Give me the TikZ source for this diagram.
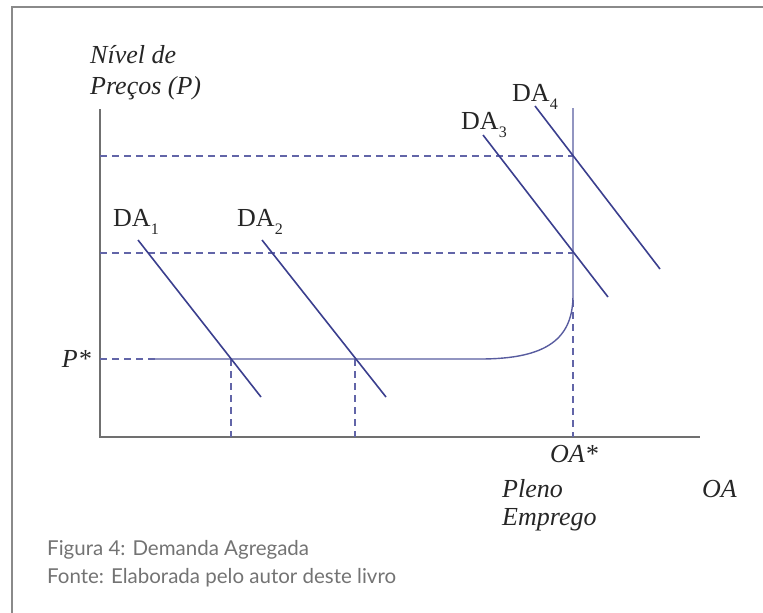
\documentclass[tikz,border=0pt]{standalone}
\usepackage{fontspec}
\setmainfont{Liberation Serif}
\newfontfamily\capfont{Lato}
\definecolor{curveblue}{HTML}{3B3F8E}
\definecolor{dashblue}{HTML}{6265A8}
\definecolor{axisgray}{HTML}{707070}
\definecolor{framegray}{HTML}{8A8A8A}
\definecolor{capgray}{HTML}{737373}
\newcommand{\dasub}[1]{\raisebox{-8pt}{\fontsize{16}{16}\selectfont #1}}
\begin{document}
\begin{tikzpicture}[x=1pt,y=-1pt,
  curve/.style={draw=curveblue,line width=1.6pt},
  guide/.style={draw=dashblue,line width=1.3pt,dash pattern=on 7pt off 5pt},
  axis/.style={draw=axisgray,line width=1.6pt},
  lbl/.style={inner sep=0pt,font=\fontsize{26}{30}\selectfont\itshape,text=black!85},
  dalbl/.style={inner sep=0pt,font=\fontsize{26}{30}\selectfont,text=black!85,anchor=base west},
  caption/.style={inner sep=0pt,anchor=base west,font=\capfont\fontsize{20.5}{24}\selectfont,text=capgray}]
\useasboundingbox (0,0) rectangle (763,613);
% frame (top and left edges)
\draw[framegray,line width=2.4pt] (763,7) -- (12,7) -- (12,613);

% axes
\coordinate (ytop) at (100,109);
\coordinate (orig) at (100,437);
\coordinate (xend) at (700,437);
\draw[axis] (ytop) -- (orig) -- (xend);

% key points
\coordinate (p4) at (573,156);
\coordinate (p3) at (573,253);
\coordinate (e1) at (231,359);
\coordinate (e2) at (355,359);
\coordinate (yP4) at (100,156);
\coordinate (yP3) at (100,253);
\coordinate (yPs) at (100,359);
\coordinate (ps) at (155,359);
\coordinate (x1) at (231,437);
\coordinate (x2) at (355,437);
\coordinate (xf) at (573,437);
\coordinate (kink) at (573,300);

% guide lines
\draw[guide] (yP4) -- (p4);
\draw[guide] (yP3) -- (p3);
\draw[guide] (yPs) -- (ps);
\draw[guide] (e1) -- (x1);
\draw[guide] (e2) -- (x2);
\draw[guide] (kink) -- (xf);

% aggregate supply
\draw[curve,line width=1.4pt,draw=curveblue!85] (ps) -- (480,359)
  .. controls (548,359) and (573,338) .. (573,295) -- (573,108);

% aggregate demand curves
\draw[curve] (138,240) -- (261,397);
\draw[curve] (262,240) -- (386,397);
\draw[curve] (483,135) -- (608,297);
\draw[curve] (535,106) -- (660,269);

% labels
\node[dalbl] (da1) at (113,226) {DA\dasub{1}};
\node[dalbl] (da2) at (237,226) {DA\dasub{2}};
\node[dalbl] (da3) at (461,129) {DA\dasub{3}};
\node[dalbl] (da4) at (512,101) {DA\dasub{4}};

\node[lbl,anchor=base west] (ny1) at (90,63) {Nível de};
\node[lbl,anchor=base west] (ny2) at (90,94) {Preços (P)};
\node[lbl,anchor=base east] (pstar) at (91,367) {P*};
\node[lbl,anchor=base west] (oastar) at (550,462) {OA*};
\node[lbl,anchor=base west] (pl1) at (502,497) {Pleno};
\node[lbl,anchor=base west] (pl2) at (502,525) {Emprego};
\node[lbl,anchor=base west] (oa) at (702,497) {OA};

\node[caption] (cap1) at (47,555) {Figura 4: Demanda Agregada};
\node[caption] (cap2) at (47,583) {Fonte: Elaborada pelo autor deste livro};
\end{tikzpicture}
\end{document}
